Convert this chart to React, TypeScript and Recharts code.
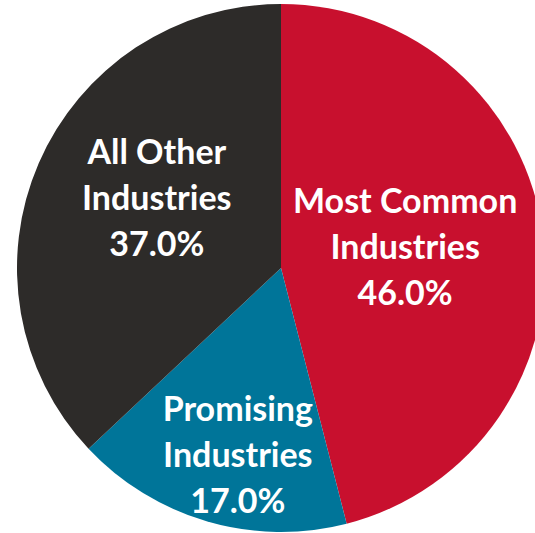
import React from "react";
import { PieChart, Pie, Cell } from "recharts";

const categories = ["Most Common", "Promising", "All Other"];
const values = [46.0, 17.0, 37.0];
const colors = ["#C8102E", "#007599", "#2D2B29"];

const data = categories.map((name, i) => ({ name, value: values[i] }));

const labelTweak: Record<string, { f: number; shift: number }> = {
  "Most Common": { f: 0.477, shift: -2.4 },
  Promising: { f: 0.727, shift: -3.2 },
  "All Other": { f: 0.54, shift: 6 },
};

const RAD = Math.PI / 180;

const renderLabel = (props: any) => {
  const { cx, cy, midAngle, outerRadius, name, value } = props;
  const t = labelTweak[name] || { f: 0.5, shift: 0 };
  const theta = (90 - midAngle + t.shift) * RAD; // clockwise from top
  const r = outerRadius * t.f;
  const x = cx + r * Math.sin(theta);
  const y = cy - r * Math.cos(theta);
  const lines = [name, "Industries", `${Number(value).toFixed(1)}%`];
  const lh = 46;
  return (
    <text
      x={x}
      y={y}
      textAnchor="middle"
      fill="#ffffff"
      fontFamily="Lato, 'Open Sans', sans-serif"
      fontWeight={700}
      fontSize={34}
    >
      {lines.map((l, i) => (
        <tspan key={i} x={x} y={y + (i - 1) * lh} dy="0.36em">
          {l}
        </tspan>
      ))}
    </text>
  );
};

export default function App() {
  return (
    <div style={{ position: "absolute", left: 0, top: 0, width: 535, height: 533, background: "#fff", overflow: "hidden" }}>
      <PieChart width={535} height={533} margin={{ top: 0, right: 0, bottom: 0, left: 0 }}>
        <Pie
          data={data}
          dataKey="value"
          nameKey="name"
          cx={281}
          cy={268}
          outerRadius={264}
          startAngle={90}
          endAngle={-270}
          stroke="none"
          labelLine={false}
          label={renderLabel}
          isAnimationActive={false}
        >
          {data.map((d, i) => (
            <Cell key={d.name} fill={colors[i]} />
          ))}
        </Pie>
      </PieChart>
    </div>
  );
}
